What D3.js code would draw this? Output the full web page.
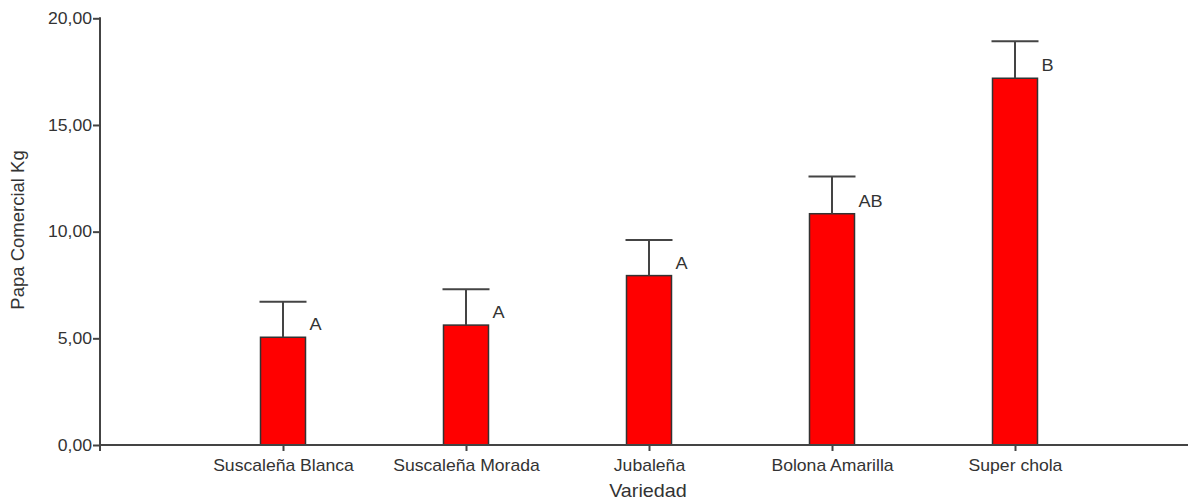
<!DOCTYPE html>
<html>
<head>
<meta charset="utf-8">
<script src="https://cdn.jsdelivr.net/npm/d3@7"></script>
<style>
  html, body { margin: 0; padding: 0; background: #fff; }
  svg { display: block; }
  text { font-family: "Liberation Sans", Arial, sans-serif; fill: #333; }
</style>
</head>
<body>
<svg id="chart" width="1188" height="500"></svg>
<script>
// Varieties and commercial potato yield (kg): mean, upper error, Tukey group letter
const categories = ["Suscaleña Blanca", "Suscaleña Morada", "Jubaleña", "Bolona Amarilla", "Super chola"];
const means = [5.05, 5.62, 7.94, 10.84, 17.19];
const errors = [1.67, 1.68, 1.67, 1.74, 1.74];
const groups = ["A", "A", "A", "AB", "B"];
const yTicks = [0, 5, 10, 15, 20];

const svg = d3.select("#chart");
const stretch = 1.1;          // text is drawn slightly wide
const axisColor = "#444";

const x = d3.scalePoint().domain(categories).range([100, 1198]).padding(1);
const y = d3.scaleLinear().domain([0, 20]).range([445, 18.3]);
const barW = 45;

// Bars
svg.append("g").selectAll("rect")
  .data(categories)
  .join("rect")
  .attr("x", (d) => x(d) - barW / 2)
  .attr("y", (d, i) => y(means[i]))
  .attr("width", barW)
  .attr("height", (d, i) => y(0) - y(means[i]))
  .attr("fill", "#ff0000")
  .attr("stroke", "#333")
  .attr("stroke-width", 1.5);

// Error bars (upper only)
const eb = svg.append("g").attr("stroke", axisColor).attr("stroke-width", 2);
categories.forEach((c, i) => {
  eb.append("line")
    .attr("x1", x(c)).attr("x2", x(c))
    .attr("y1", y(means[i])).attr("y2", y(means[i] + errors[i]));
  eb.append("line")
    .attr("x1", x(c) - barW / 2 - 1).attr("x2", x(c) + barW / 2 + 1)
    .attr("y1", y(means[i] + errors[i])).attr("y2", y(means[i] + errors[i]));
});

// Group letters
svg.append("g").selectAll("text")
  .data(categories)
  .join("text")
  .attr("transform", (d, i) => `translate(${x(d) + barW / 2 + 4},${y(means[i]) - 7}) scale(${stretch},1)`)
  .attr("font-size", 16.5)
  .text((d, i) => groups[i]);

// Y axis
const yAxis = svg.append("g")
  .attr("transform", "translate(100,0)")
  .call(d3.axisLeft(y).tickValues(yTicks).tickSize(7).tickSizeOuter(0)
    .tickFormat((d) => d3.format(".2f")(d).replace(".", ",")));
yAxis.select(".domain").remove();
yAxis.selectAll(".tick line").attr("stroke", axisColor).attr("stroke-width", 2);
yAxis.selectAll(".tick text")
  .attr("x", -8 / stretch)
  .attr("transform", `scale(${stretch},1)`)
  .attr("font-size", 16)
  .attr("font-family", "Liberation Sans, Arial, sans-serif")
  .attr("fill", "#333");
svg.append("line")
  .attr("x1", 100).attr("x2", 100)
  .attr("y1", y(20) - 1).attr("y2", y(0) + 6)
  .attr("stroke", axisColor).attr("stroke-width", 2);

// X axis
const xAxis = svg.append("g")
  .attr("transform", `translate(0,${y(0)})`)
  .call(d3.axisBottom(x).tickSize(6).tickSizeOuter(0));
xAxis.select(".domain").remove();
xAxis.selectAll(".tick line").attr("stroke", axisColor).attr("stroke-width", 2);
xAxis.selectAll(".tick text")
  .attr("y", 26).attr("dy", null)
  .attr("x", 0)
  .attr("transform", `scale(${stretch},1)`)
  .attr("font-size", 16)
  .attr("font-family", "Liberation Sans, Arial, sans-serif")
  .attr("fill", "#333");
svg.append("line")
  .attr("x1", 99).attr("x2", 1188)
  .attr("y1", y(0)).attr("y2", y(0))
  .attr("stroke", axisColor).attr("stroke-width", 2);

// Axis titles
svg.append("text")
  .attr("transform", `translate(648,497) scale(${stretch},1)`)
  .attr("text-anchor", "middle")
  .attr("font-size", 18)
  .text("Variedad");
svg.append("text")
  .attr("transform", "translate(24,230) rotate(-90)")
  .attr("text-anchor", "middle")
  .attr("font-size", 18.5)
  .text("Papa Comercial Kg");
</script>
</body>
</html>
